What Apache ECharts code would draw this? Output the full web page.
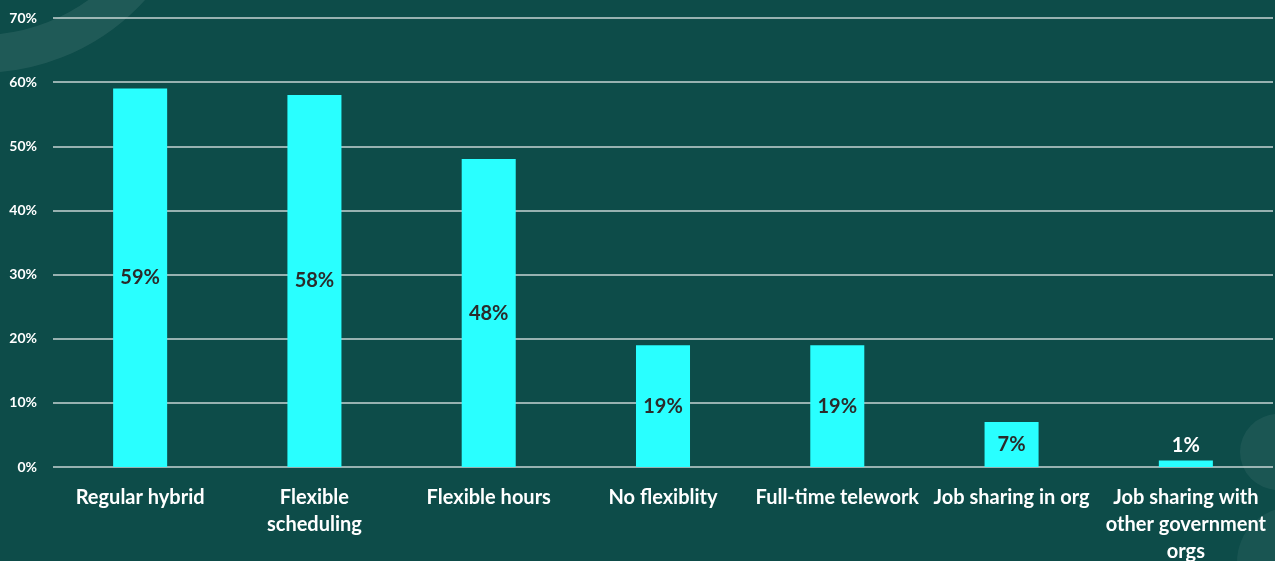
<!DOCTYPE html>
<html>
<head>
<meta charset="utf-8">
<script src="https://cdn.jsdelivr.net/npm/echarts@6/dist/echarts.min.js"></script>
<style>
  html, body { margin: 0; padding: 0; background: #0d4c49; }
  #chart { width: 1275px; height: 561px; }
</style>
</head>
<body>
<div id="chart"></div>
<script>
// data
const categories = [
  'Regular hybrid',
  'Flexible\nscheduling',
  'Flexible hours',
  'No flexiblity',
  'Full-time telework',
  'Job sharing in org',
  'Job sharing with\nother government\norgs'
];
const shares = [59, 58, 48, 19, 19, 7, 1];
const yTicks = [0, 10, 20, 30, 40, 50, 60, 70];

let chart = echarts.init(document.getElementById('chart'));

let option = {
  backgroundColor: '#0d4c49',
  textStyle: { fontFamily: 'Lato, "Open Sans", sans-serif' },
  // decorative circles in the background
  graphic: [
    {
      type: 'circle', z: -10, silent: true,
      shape: { cx: -20, cy: -150, r: 204 },
      style: { fill: 'none', stroke: 'rgba(255,255,255,0.08)', lineWidth: 38 }
    },
    {
      type: 'circle', z: -10, silent: true,
      shape: { cx: 1278, cy: 452, r: 38 },
      style: { fill: 'rgba(255,255,255,0.06)' }
    },
    {
      type: 'circle', z: -10, silent: true,
      shape: { cx: 1292, cy: 562, r: 55 },
      style: { fill: 'rgba(255,255,255,0.05)' }
    }
  ],
  grid: {
    left: 53,
    right: 2,
    top: 18,
    bottom: 94,
    containLabel: false,
    outerBoundsMode: 'none'
  },
  xAxis: {
    type: 'category',
    data: categories,
    axisLine: { show: false },
    axisTick: { show: false },
    axisLabel: {
      interval: 0,
      margin: 17,
      color: '#ffffff',
      fontWeight: 'bold',
      fontSize: 20,
      lineHeight: 27
    }
  },
  yAxis: {
    type: 'value',
    min: yTicks[0],
    max: yTicks[yTicks.length - 1],
    interval: 10,
    axisLine: { show: false },
    axisTick: { show: false },
    axisLabel: {
      margin: 16,
      color: '#ffffff',
      fontWeight: 'bold',
      fontSize: 14,
      formatter: '{value}%'
    },
    splitLine: {
      lineStyle: { color: 'rgba(230,235,235,0.85)', width: 1.5 }
    }
  },
  series: [
    {
      type: 'bar',
      data: shares.map((v, i) => {
        // the tiniest bar carries its label above, in white
        if (i === shares.length - 1) {
          return {
            value: v,
            label: { position: 'top', color: '#ffffff', distance: 5 }
          };
        }
        return v;
      }),
      barWidth: '31%',
      itemStyle: { color: '#29ffff' },
      label: {
        show: true,
        position: 'inside',
        formatter: '{c}%',
        color: '#2b2b2b',
        fontWeight: 'bold',
        fontSize: 20
      }
    }
  ]
};
chart.setOption(option);
</script>
</body>
</html>
